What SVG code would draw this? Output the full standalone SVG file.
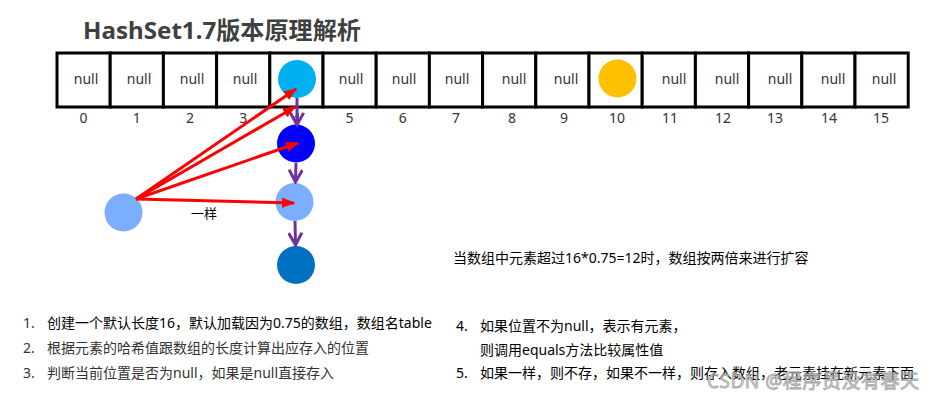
<svg xmlns="http://www.w3.org/2000/svg" width="934" height="400" viewBox="0 0 934 400">
<style>
text{font-family:"Noto Sans","Noto Sans CJK SC",sans-serif;fill:#333;}
.cell{fill:#fff;stroke:#000;stroke-width:3;}
.null{font-size:14px;text-anchor:middle;}
.idx{font-size:14px;text-anchor:middle;}
.t{font-size:14px;}
.red{stroke:#ff0000;stroke-width:3;fill:none;marker-end:url(#rh);}
.pur{stroke:#7030a0;stroke-width:3;fill:none;marker-end:url(#ph);}
</style>
<defs>
<marker id="rh" markerWidth="4.5" markerHeight="3.4" refX="4" refY="1.7" orient="auto" markerUnits="strokeWidth"><path d="M0,0 L4.5,1.7 L0,3.4 Z" fill="#ff0000"/></marker>
<marker id="ph" markerWidth="5" markerHeight="5" refX="4" refY="2.5" orient="auto" markerUnits="strokeWidth"><path d="M0.3,0.3 L4.3,2.5 L0.3,4.7" fill="none" stroke="#7030a0" stroke-width="1"/></marker>
</defs>
<rect width="934" height="400" fill="#fff"/>
<text x="83" y="39" style="font-size:24px;font-weight:bold;fill:#404040" textLength="278" lengthAdjust="spacingAndGlyphs">HashSet1.7版本原理解析</text>
<g id="array">
<rect class="cell" x="57" y="53" width="53.2" height="54"/>
<rect class="cell" x="110.2" y="53" width="53.2" height="54"/>
<rect class="cell" x="163.4" y="53" width="53.2" height="54"/>
<rect class="cell" x="216.6" y="53" width="53.2" height="54"/>
<rect class="cell" x="269.8" y="53" width="53.2" height="54"/>
<rect class="cell" x="323" y="53" width="53.2" height="54"/>
<rect class="cell" x="376.2" y="53" width="53.2" height="54"/>
<rect class="cell" x="429.4" y="53" width="53.2" height="54"/>
<rect class="cell" x="482.6" y="53" width="53.2" height="54"/>
<rect class="cell" x="535.8" y="53" width="53.2" height="54"/>
<rect class="cell" x="589" y="53" width="53.2" height="54"/>
<rect class="cell" x="642.2" y="53" width="53.2" height="54"/>
<rect class="cell" x="695.4" y="53" width="53.2" height="54"/>
<rect class="cell" x="748.6" y="53" width="53.2" height="54"/>
<rect class="cell" x="801.8" y="53" width="53.2" height="54"/>
<rect class="cell" x="855" y="53" width="53.2" height="54"/>
<text class="null" x="86" y="84">null</text>
<text class="null" x="139" y="84">null</text>
<text class="null" x="192" y="84">null</text>
<text class="null" x="245" y="84">null</text>
<text class="null" x="351" y="84">null</text>
<text class="null" x="404" y="84">null</text>
<text class="null" x="457" y="84">null</text>
<text class="null" x="514" y="84">null</text>
<text class="null" x="566" y="84">null</text>
<text class="null" x="674" y="84">null</text>
<text class="null" x="727" y="84">null</text>
<text class="null" x="780" y="84">null</text>
<text class="null" x="833" y="84">null</text>
<text class="null" x="884" y="84">null</text>
<text class="idx" x="83.6" y="123">0</text>
<text class="idx" x="136.8" y="123">1</text>
<text class="idx" x="190" y="123">2</text>
<text class="idx" x="243.2" y="123">3</text>
<text class="idx" x="296.4" y="123">4</text>
<text class="idx" x="349.6" y="123">5</text>
<text class="idx" x="402.8" y="123">6</text>
<text class="idx" x="456" y="123">7</text>
<text class="idx" x="512" y="123">8</text>
<text class="idx" x="564" y="123">9</text>
<text class="idx" x="617" y="123">10</text>
<text class="idx" x="670" y="123">11</text>
<text class="idx" x="723" y="123">12</text>
<text class="idx" x="775" y="123">13</text>
<text class="idx" x="829" y="123">14</text>
<text class="idx" x="881" y="123">15</text>
</g>
<g id="node-slot4"><circle cx="297" cy="79" r="19" fill="#00b0f0"/></g>
<g id="node-slot10"><circle cx="617.5" cy="78.5" r="19" fill="#ffc000"/></g>
<g id="node-chain1"><circle cx="296" cy="143.5" r="19" fill="#0000ff"/></g>
<g id="node-chain2"><circle cx="294.5" cy="202" r="19" fill="#7baeff"/></g>
<g id="node-chain3"><circle cx="296" cy="265" r="19" fill="#0070c0"/></g>
<g id="node-new"><circle cx="123.5" cy="212.5" r="19" fill="#7baeff"/></g>
<g id="connectors">
<line class="pur" x1="297" y1="98" x2="297" y2="124"/>
<line class="pur" x1="296" y1="163" x2="295.5" y2="181"/>
<line class="pur" x1="295" y1="221" x2="295.5" y2="244"/>
<line class="red" x1="136" y1="199" x2="296" y2="89"/>
<line class="red" x1="136" y1="199" x2="295" y2="107"/>
<line class="red" x1="136" y1="199" x2="298" y2="143"/>
<line class="red" x1="136" y1="199" x2="294" y2="203"/>
<text x="204" y="218" style="font-size:13px;text-anchor:middle;fill:#000">一样</text>
</g>
<text class="t" x="453" y="263" style="fill:#000">当数组中元素超过16*0.75=12时，数组按两倍来进行扩容</text>
<g id="notes-left">
<text class="t" x="23" y="328">1.</text>
<text class="t" x="47" y="328" style="fill:#000">创建一个默认长度16，默认加载因为0.75的数组，数组名table</text>
<text class="t" x="23" y="353">2.</text>
<text class="t" x="47" y="353">根据元素的哈希值跟数组的长度计算出应存入的位置</text>
<text class="t" x="23" y="378">3.</text>
<text class="t" x="47" y="378">判断当前位置是否为null，如果是null直接存入</text>
</g>
<g id="notes-right">
<text class="t" x="456" y="331" style="fill:#000">4.</text>
<text class="t" x="480" y="331" style="fill:#000">如果位置不为null，表示有元素，</text>
<text class="t" x="480" y="355" style="fill:#000">则调用equals方法比较属性值</text>
<text class="t" x="456" y="378" style="fill:#000">5.</text>
<text class="t" x="480" y="378" style="fill:#000">如果一样，则不存，如果不一样，则存入数组，老元素挂在新元素下面</text>
</g>
<text x="707" y="388" textLength="212" style="font-size:19px;fill:#ccc;stroke:#999;stroke-width:0.8;opacity:0.85">CSDN @程序员没有春天</text>
</svg>
